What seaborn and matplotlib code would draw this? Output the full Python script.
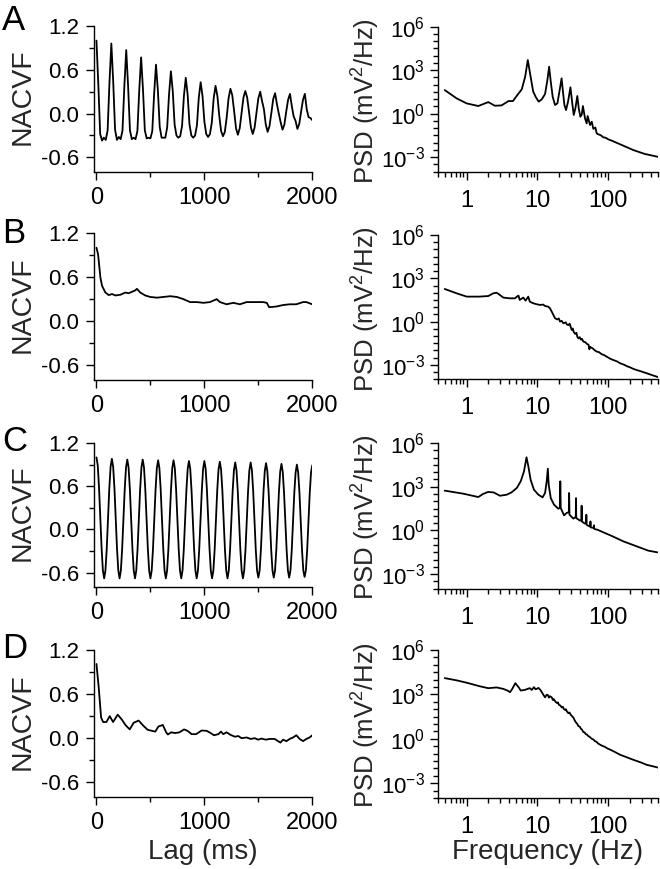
import numpy as np
import seaborn as sns
import matplotlib
matplotlib.use("Agg")
import matplotlib.pyplot as plt
from matplotlib.ticker import FixedLocator, FixedFormatter, NullFormatter

# ---- normalised autocovariance (NACVF), lag in ms ----
# A: uniform lag grid, 8 samples per oscillation cycle
acf_a = [
    1.00, 0.40, -0.28, -0.37, -0.33, -0.36, -0.23, 0.43,
    0.96, 0.44, -0.22, -0.36, -0.32, -0.35, -0.23, 0.38,
    0.87, 0.38, -0.23, -0.35, -0.33, -0.35, -0.24, 0.32,
    0.77, 0.33, -0.23, -0.34, -0.33, -0.34, -0.24, 0.27,
    0.67, 0.32, -0.18, -0.33, -0.33, -0.33, -0.19, 0.26,
    0.58, 0.31, -0.15, -0.30, -0.33, -0.31, -0.17, 0.24,
    0.49, 0.26, -0.15, -0.30, -0.33, -0.30, -0.16, 0.22,
    0.43, 0.24, -0.11, -0.28, -0.32, -0.28, -0.12, 0.21,
    0.38, 0.24, -0.03, -0.24, -0.31, -0.25, -0.05, 0.21,
    0.34, 0.25, 0.03, -0.20, -0.29, -0.20, 0.01, 0.22,
    0.31, 0.22, 0.02, -0.19, -0.28, -0.19, 0.01, 0.21,
    0.30, 0.17, 0.06, -0.15, -0.25, -0.17, 0.01, 0.20,
    0.28, 0.13, 0.00, -0.12, -0.22, -0.15, 0.03, 0.19,
    0.27, 0.10, -0.04, -0.10, -0.21, -0.14, 0.03, 0.19,
    0.27, 0.06, -0.05, -0.06, -0.09,
]
lag_a = np.linspace(0, 2000, len(acf_a))

# C: uniform lag grid, 12 samples per oscillation cycle
acf_c = [
    1.00, 0.89, 0.58, 0.16, -0.26, -0.57, -0.68, -0.57, -0.27, 0.15, 0.57, 0.87,
    0.98, 0.87, 0.57, 0.15, -0.27, -0.57, -0.68, -0.57, -0.27, 0.15, 0.56, 0.86,
    0.97, 0.86, 0.56, 0.15, -0.27, -0.57, -0.68, -0.57, -0.27, 0.15, 0.56, 0.86,
    0.97, 0.86, 0.56, 0.15, -0.27, -0.57, -0.68, -0.57, -0.27, 0.14, 0.55, 0.85,
    0.96, 0.85, 0.55, 0.14, -0.27, -0.57, -0.68, -0.57, -0.27, 0.14, 0.55, 0.85,
    0.96, 0.85, 0.55, 0.14, -0.27, -0.57, -0.68, -0.57, -0.27, 0.14, 0.54, 0.84,
    0.95, 0.84, 0.54, 0.14, -0.27, -0.57, -0.68, -0.57, -0.27, 0.14, 0.54, 0.84,
    0.95, 0.84, 0.54, 0.14, -0.27, -0.57, -0.68, -0.57, -0.28, 0.13, 0.54, 0.83,
    0.94, 0.83, 0.54, 0.13, -0.28, -0.57, -0.68, -0.57, -0.28, 0.13, 0.53, 0.82,
    0.93, 0.82, 0.53, 0.13, -0.28, -0.57, -0.68, -0.57, -0.28, 0.13, 0.53, 0.82,
    0.93, 0.82, 0.53, 0.13, -0.28, -0.57, -0.67, -0.57, -0.28, 0.12, 0.52, 0.81,
    0.92, 0.81, 0.52, 0.12, -0.28, -0.57, -0.67, -0.57, -0.28, 0.12, 0.51, 0.80,
    0.91, 0.80, 0.51, 0.12, -0.28, -0.57, -0.67, -0.57, -0.29, 0.11, 0.51, 0.79,
    0.90, 0.79, 0.51, 0.11, -0.29, -0.57, -0.66, -0.57, -0.29, 0.11, 0.50, 0.79,
    0.89,
]
lag_c = np.linspace(0, 2000, len(acf_c))

lag_b = [0, 15, 37, 52, 83, 114, 145, 175, 222, 268, 298, 329, 360, 375, 406,
         452, 498, 560, 622, 683, 745, 806, 868, 929, 991, 1052, 1114, 1145,
         1206, 1268, 1329, 1391, 1452, 1545, 1578, 1600, 1668, 1729, 1791,
         1852, 1914, 1945, 2000]
acf_b = [1.00, 0.91, 0.59, 0.48, 0.39, 0.355, 0.37, 0.35, 0.36, 0.39, 0.38,
         0.40, 0.42, 0.44, 0.39, 0.35, 0.33, 0.32, 0.33, 0.34, 0.33, 0.30,
         0.26, 0.26, 0.25, 0.26, 0.30, 0.26, 0.23, 0.25, 0.23, 0.26, 0.26,
         0.26, 0.25, 0.19, 0.20, 0.22, 0.23, 0.23, 0.26, 0.26, 0.23]

lag_d = [0, 21, 43, 62, 92, 123, 154, 197, 237, 268, 308, 345, 391, 431, 474,
         514, 545, 575, 615, 646, 662, 692, 729, 769, 812, 843, 883, 923, 975,
         1022, 1058, 1089, 1129, 1154, 1175, 1206, 1243, 1283, 1314, 1345,
         1391, 1428, 1468, 1498, 1529, 1569, 1606, 1652, 1683, 1705, 1729,
         1760, 1791, 1822, 1852, 1883, 1914, 1945, 1975, 2000]
acf_d = [1.01, 0.69, 0.28, 0.22, 0.22, 0.30, 0.22, 0.32, 0.25, 0.18, 0.12,
         0.21, 0.24, 0.175, 0.115, 0.10, 0.09, 0.16, 0.18, 0.08, 0.05, 0.08,
         0.07, 0.08, 0.12, 0.10, 0.055, 0.055, 0.105, 0.10, 0.07, 0.04,
         0.055, 0.09, 0.055, 0.08, 0.045, 0.02, 0.03, 0.0, 0.01, -0.01, 0.0,
         -0.02, -0.005, -0.02, -0.01, -0.01, -0.04, -0.06, -0.02, -0.04,
         -0.01, 0.01, 0.04, -0.01, -0.04, -0.01, 0.01, 0.04]

# ---- power spectral density: frequency (Hz) and log10 PSD (mV^2/Hz) ----
freq_a = [0.49, 0.72, 1.0, 1.46, 2.02, 2.5, 3.1, 3.9, 4.5, 5.2, 6.0, 6.7, 7.3,
          8.0, 8.7, 9.5, 10.4, 11.5, 12.8, 13.8, 14.6, 15.4, 16.4, 17.7, 19.1,
          20.4, 21.9, 22.9, 24.0, 25.3, 27.0, 29.2, 30.8, 32.5, 34.3, 36.5,
          38.3, 40.3, 42.2, 43.8, 46.9, 49.5, 51.1, 55.2, 58.4, 61.5, 65.7,
          68.6, 72, 78, 85, 92, 100, 112, 155, 226, 330, 500]
logpsd_a = [1.63, 1.06, 0.71, 0.53, 0.80, 0.55, 0.57, 0.87, 0.87, 1.29, 1.68,
            2.55, 3.70, 2.55, 1.52, 1.13, 0.83, 0.99, 1.36, 2.32, 3.24, 2.21,
            1.17, 0.60, 0.71, 1.52, 2.44, 1.52, 0.60, 0.25, 0.83, 1.82, 0.83,
            -0.09, 0.37, 1.22, 0.35, -0.21, -0.05, 0.53, -0.32, -0.67, -0.16,
            -0.78, -0.55, -1.05, -0.95, -1.36, -1.42, -1.48, -1.63, -1.66,
            -1.77, -1.86, -2.16, -2.51, -2.78, -2.97]

freq_b = [0.49, 0.72, 1.0, 1.5, 2.02, 2.38, 2.65, 2.95, 3.3, 4.1, 4.8, 5.2,
          5.4, 5.6, 6.3, 6.8, 7.4, 7.8, 8.7, 9.75, 10.9, 12.0, 12.8, 14.2,
          15.0, 15.9, 16.8, 17.7, 19.0, 20.0, 20.8, 22.0, 23.2, 25.0, 26.0,
          27.3, 28.5, 30.4, 31.5, 32.5, 34.0, 35.5, 36.5, 37.8, 39.5, 41.0,
          42.5, 44.5, 47.0, 50.0, 52.5, 54.0, 55.2, 58.0, 60.0, 64.0, 68.6,
          74.0, 80.0, 87.0, 95.0, 107, 120, 133, 147, 165, 185, 205, 226, 260,
          290, 320, 349, 420, 500]
logpsd_b = [2.26, 1.96, 1.73, 1.73, 1.77, 1.96, 2.00, 1.84, 1.66, 1.61, 1.61,
            1.75, 1.80, 1.50, 1.66, 1.45, 1.73, 1.38, 1.27, 1.20, 1.15, 1.18,
            1.08, 1.03, 0.92, 0.69, 0.45, 0.23, 0.15, 0.22, 0.00, 0.05, -0.12,
            -0.05, -0.20, -0.24, -0.15, -0.58, -0.48, -0.72, -0.85, -0.78,
            -1.05, -1.16, -1.08, -1.25, -1.20, -1.39, -1.42, -1.55, -1.60,
            -1.92, -1.74, -1.82, -1.85, -1.98, -2.08, -2.12, -2.25, -2.32,
            -2.43, -2.58, -2.68, -2.76, -2.89, -2.98, -3.10, -3.18, -3.28,
            -3.38, -3.45, -3.52, -3.58, -3.72, -3.84]

freq_c = [0.49, 0.9, 1.46, 1.7, 2.0, 2.4, 2.65, 2.95, 3.67, 4.3, 5.1, 5.8,
          6.45, 7.0, 7.43, 8.0, 8.9, 10.3, 11.8, 12.8, 13.5, 14.0, 14.4, 15.4,
          17.1, 19.7, 20.7, 21.0, 21.3, 23.7, 25.8, 27.7, 28.0, 28.3, 32.1,
          34.7, 35.0, 35.3, 39.8, 41.7, 42.0, 42.3, 46.5, 48.7, 49.0, 49.3,
          54.0, 55.7, 56.0, 56.3, 61.0, 62.7, 63.0, 63.3, 70.0, 85.0, 112,
          163, 251, 368, 500]
logpsd_c = [2.73, 2.52, 2.29, 2.50, 2.64, 2.61, 2.50, 2.38, 2.45, 2.61, 2.91,
            3.37, 4.05, 5.02, 4.40, 3.48, 2.80, 2.45, 2.27, 2.57, 3.37, 4.24,
            3.14, 2.22, 1.77, 1.49, 1.55, 3.37, 1.54, 1.03, 1.20, 1.25, 2.57,
            1.08, 0.81, 0.92, 2.22, 0.85, 0.67, 0.72, 1.70, 0.62, 0.47, 0.50,
            1.08, 0.39, 0.28, 0.30, 0.62, 0.21, 0.18, 0.20, 0.35, 0.10, 0.05,
            -0.13, -0.38, -0.75, -1.09, -1.39, -1.51]

freq_d = [0.49, 0.72, 1.0, 1.5, 2.02, 2.65, 3.3, 3.8, 4.1, 4.4, 4.87, 5.4,
          5.8, 6.7, 7.3, 7.8, 8.3, 8.9, 9.4, 9.75, 10.3, 11.0, 11.5, 12.2,
          12.8, 13.5, 14.0, 14.5, 15.0, 15.9, 16.5, 17.0, 18.0, 18.8, 19.5,
          20.0, 21.0, 22.0, 22.8, 23.5, 24.5, 25.2, 26.0, 27.3, 28.3, 29.5,
          30.5, 32.2, 33.5, 35.0, 36.5, 37.8, 39.5, 41.0, 42.5, 44.5, 46.0,
          48.0, 50.0, 52.3, 54.0, 56.0, 58.5, 61.5, 64.5, 68.0, 72.0, 76.0,
          82.0, 90.0, 97.0, 106, 125, 147, 185, 226, 290, 349, 420, 500]
logpsd_d = [4.10, 3.95, 3.79, 3.56, 3.42, 3.47, 3.37, 3.25, 3.15, 3.37, 3.76,
            3.49, 3.26, 3.31, 3.38, 3.42, 3.30, 3.49, 3.35, 3.37, 3.44, 3.30,
            3.15, 2.95, 2.80, 2.98, 2.96, 2.78, 2.88, 2.80, 2.62, 2.68, 2.50,
            2.42, 2.46, 2.30, 2.25, 2.12, 2.16, 2.02, 1.95, 2.00, 1.85, 1.73,
            1.78, 1.62, 1.55, 1.43, 1.25, 1.10, 1.00, 0.86, 0.82, 0.68, 0.62,
            0.45, 0.44, 0.32, 0.28, 0.18, 0.15, 0.08, 0.00, -0.05, -0.15,
            -0.20, -0.32, -0.39, -0.47, -0.55, -0.65, -0.73, -0.90, -1.08,
            -1.26, -1.42, -1.60, -1.76, -1.85, -1.94]

panel_letters = ["A", "B", "C", "D"]
acf_yticks = [-0.6, 0.0, 0.6, 1.2]
acf_yticklabels = ["-0.6", "0.0", "0.6", "1.2"]
psd_yticks = [1e-3, 1e0, 1e3, 1e6]
psd_yticklabels = [r"$\mathregular{10^{-3}}$", r"$\mathregular{10^{0}}$",
                   r"$\mathregular{10^{3}}$", r"$\mathregular{10^{6}}$"]

sns.set_theme(style="ticks")
plt.rcParams["font.family"] = ["Liberation Sans", "DejaVu Sans"]
plt.rcParams["mathtext.default"] = "regular"
plt.rcParams["axes.unicode_minus"] = False

W, H = 660, 869
fig = plt.figure(figsize=(W / 100, H / 100), dpi=100)


def rect(l, t, r, b):
    return [l / W, 1 - b / H, (r - l) / W, (b - t) / H]


acf_rows = [(26, 172), (233, 380), (443, 587), (650, 797)]
psd_rows = [(26.7, 171.7), (235, 379.3), (443, 588.7), (650, 798)]
letter_base = [30, 243, 451, 658]
xlabel_base = 859

acf_data = [(lag_a, acf_a), (lag_b, acf_b), (lag_c, acf_c), (lag_d, acf_d)]
psd_data = [(freq_a, logpsd_a), (freq_b, logpsd_b),
            (freq_c, logpsd_c), (freq_d, logpsd_d)]


def style_axis(ax):
    sns.despine(ax=ax)
    for s in ("left", "bottom"):
        ax.spines[s].set_linewidth(1.0)
        ax.spines[s].set_color("black")
    ax.tick_params(which="major", direction="out", length=6, width=1.0,
                   color="black", labelcolor="black")
    ax.tick_params(which="minor", direction="out", length=3.5, width=1.0,
                   color="black")
    ax.set_facecolor("white")


for i in range(4):
    # autocovariance panel
    lag, val = acf_data[i]
    top, bot = acf_rows[i]
    ax = fig.add_axes(rect(94.3, top, 312.3, bot))
    sns.lineplot(x=lag, y=val, ax=ax, color="black", linewidth=1.3)
    ax.set_xlim(-20, 2000)
    ax.set_ylim(-0.8, 1.2)
    ax.xaxis.set_major_locator(FixedLocator([0, 1000, 2000]))
    ax.xaxis.set_minor_locator(FixedLocator([500, 1500]))
    ax.yaxis.set_major_locator(FixedLocator(acf_yticks))
    ax.yaxis.set_major_formatter(FixedFormatter(acf_yticklabels))
    ax.yaxis.set_minor_locator(FixedLocator([-0.3, 0.3, 0.9]))
    style_axis(ax)
    ax.tick_params(axis="y", labelsize=16, pad=5)
    ax.tick_params(axis="x", labelsize=17, pad=5)
    ax.set_ylabel("NACVF", fontsize=20.5)
    ax.yaxis.label.set_va("center")
    ax.yaxis.set_label_coords(-0.329, 0.515)
    if i == 3:
        ax.set_xlabel("Lag (ms)", fontsize=20)
        ax.xaxis.label.set_va("baseline")
        ax.xaxis.set_label_coords(0.5, (bot - xlabel_base) / (bot - top))
    else:
        ax.set_xlabel("")

    # spectrum panel
    f, lp = psd_data[i]
    top, bot = psd_rows[i]
    ax2 = fig.add_axes(rect(437.7, top, 657.8, bot))
    sns.lineplot(x=f, y=np.power(10.0, lp), ax=ax2, color="black",
                 linewidth=1.3)
    ax2.set_xscale("log")
    ax2.set_yscale("log")
    ax2.set_xlim(0.39, 500)
    ax2.set_ylim(1e-4, 1e6)
    ax2.xaxis.set_major_locator(FixedLocator([1, 10, 100]))
    ax2.xaxis.set_major_formatter(FixedFormatter(["1", "10", "100"]))
    xminor = [m * d for d in (0.1, 1, 10, 100) for m in range(2, 10)
              if 0.39 <= m * d <= 500]
    ax2.xaxis.set_minor_locator(FixedLocator(xminor))
    ax2.xaxis.set_minor_formatter(NullFormatter())
    ax2.yaxis.set_major_locator(FixedLocator(psd_yticks))
    ax2.yaxis.set_major_formatter(FixedFormatter(psd_yticklabels))
    yminor = [10 ** (k / 2) for k in range(-8, 13) if k % 6 != 0]
    ax2.yaxis.set_minor_locator(FixedLocator(yminor))
    ax2.yaxis.set_minor_formatter(NullFormatter())
    style_axis(ax2)
    ax2.tick_params(axis="y", labelsize=16, pad=3)
    ax2.tick_params(axis="x", labelsize=17, pad=7)
    ax2.set_ylabel("PSD (mV$^{2}$/Hz)", fontsize=18.5)
    ax2.yaxis.label.set_va("center")
    ax2.yaxis.set_label_coords(-0.328, 0.49)
    if i == 3:
        ax2.set_xlabel("Frequency (Hz)", fontsize=20)
        ax2.xaxis.label.set_va("baseline")
        ax2.xaxis.set_label_coords(0.5, (bot - xlabel_base) / (bot - top))
    else:
        ax2.set_xlabel("")

    fig.text(2 / W, 1 - letter_base[i] / H, panel_letters[i], fontsize=25,
             ha="left", va="baseline", color="black")

fig.savefig("out.png", dpi=100, facecolor="white")
